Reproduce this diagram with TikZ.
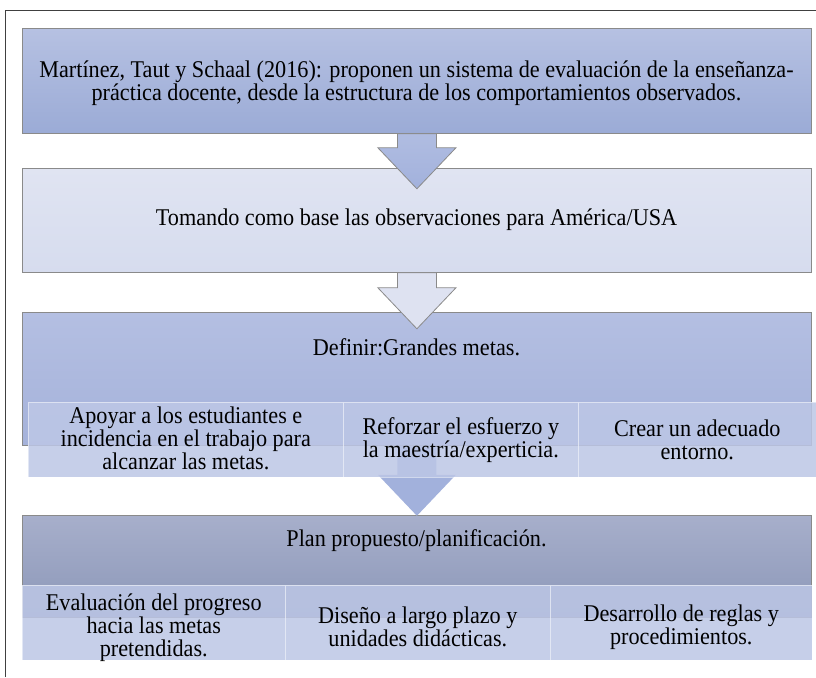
\documentclass[tikz,border=0pt]{standalone}
\usepackage{fontspec}
\setmainfont[FakeStretch=0.925]{Liberation Serif}
\usetikzlibrary{calc}
\definecolor{frame}{HTML}{404040}
\definecolor{bord}{HTML}{8A8A8A}
\definecolor{bAtop}{HTML}{B6C1E2}
\definecolor{bAbot}{HTML}{9BABD6}
\definecolor{bBtop}{HTML}{E0E4F2}
\definecolor{bBbot}{HTML}{D6DCEE}
\definecolor{bCtop}{HTML}{B4BFE2}
\definecolor{bCbot}{HTML}{A5B2DA}
\definecolor{bDtop}{HTML}{A7AFCB}
\definecolor{bDbot}{HTML}{8C97B8}
\definecolor{subfill}{HTML}{BDC7E6}
\definecolor{arrA}{HTML}{A2B1DC}
\definecolor{arrB}{HTML}{DEE2F1}
\tikzset{
  x=1pt, y=-1pt,
  txt/.style={font=\fontsize{24}{23}\selectfont, align=center, text=black, inner sep=0pt},
  bigbox/.style={draw=bord, line width=0.8pt, minimum width=789pt, inner sep=0pt, anchor=north west},
  subbox/.style={fill=subfill, fill opacity=0.85, draw=white, draw opacity=0.5, line width=0.6pt, inner sep=0pt, anchor=north west, text opacity=1, minimum height=75pt},
  arrowshape/.style={line width=0.8pt, draw=bord},
}
\begin{document}
\begin{tikzpicture}
\useasboundingbox (0,0) rectangle (816,677);
\fill[white] (0,0) rectangle (816,677);
% outer frame
\coordinate (fTL) at (5.5,10.5);
\coordinate (fTR) at (816,10.5);
\coordinate (fBL) at (5.5,677);
\draw[frame, line width=1pt] (fBL) -- (fTL) -- (fTR);

% box 1
\node[bigbox, minimum height=105pt, top color=bAtop, bottom color=bAbot] (b1) at (22,28) {};
\node[txt] (t1) at (416.5,83) {Martínez, Taut y Schaal (2016): proponen un sistema de evaluación de la enseñanza-\\práctica docente, desde la estructura de los comportamientos observados.};

% box 2
\node[bigbox, minimum height=104pt, top color=bBtop, bottom color=bBbot] (b2) at (22,168) {};
\node[txt] (t2) at (416.5,220) {Tomando como base las observaciones para América/USA};

% arrow 1
\path[arrowshape, top color=arrA!85!white, bottom color=arrA]
  ($(b1.south)+(-19.5,0)$) -- ($(b1.south)+(19.5,0)$) -- ($(b1.south)+(19.5,14)$)
  -- ($(b1.south)+(39,14)$) -- ($(b1.south)+(0,55)$) -- ($(b1.south)+(-39,14)$)
  -- ($(b1.south)+(-19.5,14)$) -- cycle;

% box 3
\node[bigbox, minimum height=133pt, top color=bCtop, bottom color=bCbot] (b3) at (22,312) {};
\node[txt] (t3) at (416.5,347) {Definir:Grandes metas.};

% arrow 2
\path[arrowshape, fill=arrB]
  ($(b2.south)+(-19.5,0)$) -- ($(b2.south)+(19.5,0)$) -- ($(b2.south)+(19.5,15)$)
  -- ($(b2.south)+(39,15)$) -- ($(b2.south)+(0,56)$) -- ($(b2.south)+(-39,15)$)
  -- ($(b2.south)+(-19.5,15)$) -- cycle;

% box 4
\node[bigbox, minimum height=102pt, top color=bDtop, bottom color=bDbot] (b4) at (22,515) {};
\node[txt] (t4) at (416.5,541) {Plan propuesto/planificación.};

% arrow 3
\path[arrowshape, draw=none, fill=arrA]
  ($(b3.south)+(-19.5,0)$) -- ($(b3.south)+(19.5,0)$) -- ($(b3.south)+(19.5,29)$)
  -- ($(b3.south)+(39,29)$) -- ($(b3.south)+(0,70)$) -- ($(b3.south)+(-39,29)$)
  -- ($(b3.south)+(-19.5,29)$) -- cycle;

% sub-boxes row 1
\node[subbox, minimum width=315pt] (s11) at (28,402) {};
\node[subbox, minimum width=235pt] (s12) at (343,402) {};
\node[subbox, minimum width=238pt] (s13) at (578,402) {};
\node[txt] at ($(s11.center)+(0,-1)$) {Apoyar a los estudiantes e\\incidencia en el trabajo para\\alcanzar las metas.};
\node[txt] at (s12.center) {Reforzar el esfuerzo y\\la maestría/experticia.};
\node[txt] at (s13.center) {Crear un adecuado\\entorno.};

% sub-boxes row 2
\node[subbox, minimum width=263pt] (s21) at (22,585) {};
\node[subbox, minimum width=265pt] (s22) at (285,585) {};
\node[subbox, minimum width=262pt] (s23) at (550,585) {};
\node[txt] at ($(s21.center)+(0,5)$) {Evaluación del progreso\\hacia las metas\\pretendidas.};
\node[txt] at ($(s22.center)+(0,4.5)$) {Diseño a largo plazo y\\unidades didácticas.};
\node[txt] at ($(s23.center)+(0,4.5)$) {Desarrollo de reglas y\\procedimientos.};
\end{tikzpicture}
\end{document}
